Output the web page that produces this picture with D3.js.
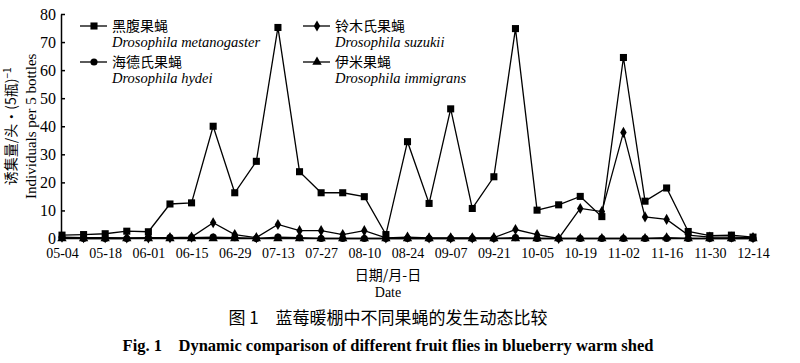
<!DOCTYPE html>
<html>
<head>
<meta charset="utf-8">
<script src="https://cdn.jsdelivr.net/npm/d3@7"></script>
<style>
  body { margin: 0; background: #fff; }
  svg { display: block; }
  .serif { font-family: "Liberation Serif", "DejaVu Serif", serif; }
  .cjk { font-family: "Noto Sans CJK SC", sans-serif; }
</style>
</head>
<body>
<div id="chart"></div>
<script>
// weekly sampling dates (month-day)
const dates = ['05-04','05-11','05-18','05-25','06-01','06-08','06-15','06-22','06-29','07-06',
  '07-13','07-20','07-27','08-03','08-10','08-17','08-24','08-31','09-07','09-14',
  '09-21','09-28','10-05','10-12','10-19','10-26','11-02','11-09','11-16','11-23',
  '11-30','12-07','12-14'];

// only every second date is labelled
const tickLabels = dates.filter((d, i) => i % 2 === 0);
const yTicks = [0, 10, 20, 30, 40, 50, 60, 70, 80];

// individuals per 5 bottles
const melanogaster = [1.2,1.4,1.7,2.6,2.4,12.3,12.7,40,16.3,27.5,75.2,23.8,16.3,16.3,14.9,1.4,34.5,12.5,46.2,10.7,22,74.8,10.1,12,15,7.8,64.5,13.3,18,2.5,1,1.2,0.5];
const suzukii = [0.5,0.3,0.3,0.2,0.2,0.3,0.5,5.6,1.4,0.3,5,2.8,2.8,1.4,2.8,0.2,0.5,0.2,0.2,0.2,0.3,3.2,1.4,0,10.7,9.6,37.8,7.7,6.8,1.2,0.5,0.5,0.3];
const hydei = [0.3,0,0,0,0.3,0.3,0.3,0.5,0.3,0,0.5,0.3,0,0,0,0,0,0,0,0,0,0.3,0,0,0,0,0,0,0,0,0,0,0];
const immigrans = [0,0,0,0,0,0,0,0,0,0,0,0,0,0,0,0,0,0,0,0,0,0,0,0,0,0,0,0,0.3,0,0,0,0];

const speciesCn = ['黑腹果蝇', '海德氏果蝇', '铃木氏果蝇', '伊米果蝇'];
const speciesLatin = ['Drosophila metanogaster', 'Drosophila hydei', 'Drosophila suzukii', 'Drosophila immigrans'];

const series = [
  {name: 'immigrans', values: immigrans, symbol: d3.symbolTriangle, size: 38},
  {name: 'hydei', values: hydei, symbol: d3.symbolCircle, size: 40},
  {name: 'suzukii', values: suzukii, symbol: d3.symbolDiamond, size: 36},
  {name: 'melanogaster', values: melanogaster, symbol: d3.symbolSquare, size: 50}
];

const width = 800, height = 363;
const margin = {top: 14, left: 62, right: 47, bottom: 124};

const svg = d3.select('#chart').append('svg')
  .attr('width', width)
  .attr('height', height);

// scales
const xScale = d3.scalePoint()
  .domain(dates)
  .range([margin.left, width - margin.right]);
const yScale = d3.scaleLinear()
  .domain([0, 80])
  .range([height - margin.bottom - 0.5, margin.top]);

// axes
const yAxis = d3.axisLeft(yScale)
  .tickValues(yTicks)
  .tickSizeInner(-4)
  .tickSizeOuter(0)
  .tickPadding(5);
const xAxis = d3.axisBottom(xScale)
  .tickValues(tickLabels)
  .tickSize(0)
  .tickPadding(10);

const yAxisG = svg.append('g')
  .attr('transform', `translate(${margin.left - 1},0)`)
  .call(yAxis);
yAxisG.selectAll('text').attr('class', 'serif').style('font-size', '16px').attr('fill', '#000');
yAxisG.selectAll('line, path').attr('stroke', '#000').attr('stroke-width', 1.5);

const xAxisG = svg.append('g')
  .attr('transform', `translate(0,${yScale(0)})`)
  .call(xAxis);
xAxisG.select('.domain').attr('stroke', '#000').attr('stroke-width', 1.2)
  .attr('d', `M${margin.left - 1},0H${width - margin.right}`);
xAxisG.selectAll('text').attr('class', 'serif').style('font-size', '14px').attr('fill', '#000');

// lines and markers
const line = d3.line()
  .x((d, i) => xScale(dates[i]))
  .y(d => yScale(d));

const plot = svg.append('g');
plot.selectAll('.series-line')
  .data(series)
  .join('path')
  .attr('class', 'series-line')
  .attr('d', d => line(d.values))
  .attr('fill', 'none')
  .attr('stroke', '#000')
  .attr('stroke-width', 1.3);

series.forEach(s => {
  plot.append('g').selectAll('path')
    .data(s.values)
    .join('path')
    .attr('transform', (d, i) => `translate(${xScale(dates[i])},${yScale(d)})`)
    .attr('d', d3.symbol(s.symbol, s.size))
    .attr('fill', '#000');
});

// legend
const legendItems = [
  {x: 80, y: 26, s: series[3], cn: speciesCn[0], latin: speciesLatin[0]},
  {x: 80, y: 62, s: series[1], cn: speciesCn[1], latin: speciesLatin[1]},
  {x: 303, y: 26, s: series[2], cn: speciesCn[2], latin: speciesLatin[2]},
  {x: 303, y: 62, s: series[0], cn: speciesCn[3], latin: speciesLatin[3]}
];
const legend = svg.append('g').selectAll('g')
  .data(legendItems)
  .join('g')
  .attr('transform', d => `translate(${d.x},${d.y})`);
legend.append('line')
  .attr('x1', 0).attr('x2', 27)
  .attr('stroke', '#000').attr('stroke-width', 1.3);
legend.append('path')
  .attr('transform', 'translate(14,0)')
  .attr('d', d => d3.symbol(d.s.symbol, d.s.size)())
  .attr('fill', '#000');
legend.append('text')
  .attr('class', 'cjk')
  .attr('x', 32).attr('dy', '0.36em')
  .style('font-size', '14px')
  .text(d => d.cn);
legend.append('text')
  .attr('class', 'serif')
  .attr('x', 32).attr('y', 16).attr('dy', '0.35em')
  .style('font-size', '14.5px')
  .style('font-style', 'italic')
  .text(d => d.latin);

// axis titles
const yTitle = svg.append('g')
  .attr('transform', `translate(0,${(yScale(0) + yScale(80)) / 2}) rotate(-90)`);
const yt1 = yTitle.append('text')
  .attr('class', 'cjk')
  .attr('y', 11).attr('dy', '0.35em')
  .attr('text-anchor', 'middle')
  .style('font-size', '14px');
yt1.append('tspan').text('诱集量/头·(5瓶)');
yt1.append('tspan').attr('dy', '-0.45em').style('font-size', '10px').text('−1');
yTitle.append('text')
  .attr('class', 'serif')
  .attr('y', 31).attr('dy', '0.35em')
  .attr('text-anchor', 'middle')
  .style('font-size', '15px')
  .text('Individuals per 5 bottles');

const cx = 388;
svg.append('text')
  .attr('class', 'cjk')
  .attr('x', cx).attr('y', 275).attr('dy', '0.36em')
  .attr('text-anchor', 'middle')
  .style('font-size', '14px')
  .text('日期/月-日');
svg.append('text')
  .attr('class', 'serif')
  .attr('x', cx).attr('y', 292).attr('dy', '0.35em')
  .attr('text-anchor', 'middle')
  .style('font-size', '14px')
  .text('Date');

// figure caption
svg.append('text')
  .attr('class', 'cjk')
  .attr('x', cx).attr('y', 318).attr('dy', '0.36em')
  .attr('text-anchor', 'middle')
  .style('font-size', '17px')
  .attr('xml:space', 'preserve')
  .text('图 1　蓝莓暖棚中不同果蝇的发生动态比较');
svg.append('text')
  .attr('class', 'serif')
  .attr('x', cx).attr('y', 345).attr('dy', '0.35em')
  .attr('text-anchor', 'middle')
  .style('font-size', '16.5px')
  .style('font-weight', 'bold')
  .attr('xml:space', 'preserve')
  .text('Fig. 1    Dynamic comparison of different fruit flies in blueberry warm shed');
</script>
</body>
</html>
